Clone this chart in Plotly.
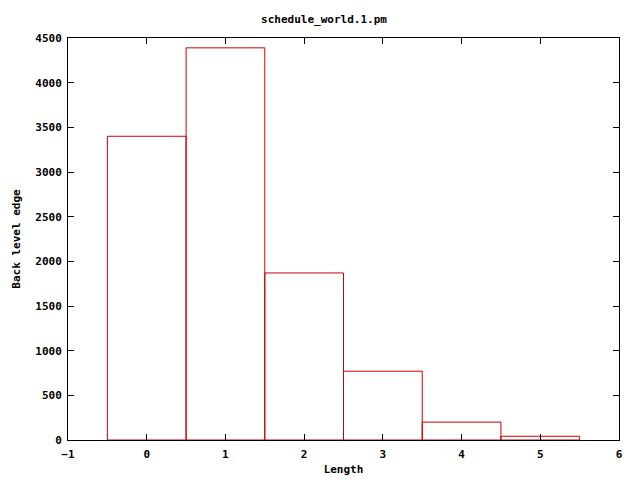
import plotly.graph_objects as go

lengths = [0, 1, 2, 3, 4, 5]
counts = [3400, 4390, 1870, 770, 200, 42]
x_ticks = [-1, 0, 1, 2, 3, 4, 5, 6]
y_ticks = [0, 500, 1000, 1500, 2000, 2500, 3000, 3500, 4000, 4500]

font = dict(family="DejaVu Sans Mono", size=11, color="black")

fig = go.Figure(go.Bar(
    x=lengths, y=counts, width=1,
    marker=dict(color="rgba(0,0,0,0)", line=dict(color="#cc0000", width=1)),
))

axis_common = dict(
    showgrid=False, zeroline=False, showline=True, linecolor="black", linewidth=1,
    mirror="ticks", ticks="inside", ticklen=6, tickcolor="black", tickwidth=1,
    automargin=False, layer="above traces",
    tickfont=dict(family="DejaVu Sans Mono", size=11, color="black", weight="bold"),
)

fig.update_layout(
    width=632, height=472,
    paper_bgcolor="white", plot_bgcolor="white",
    margin=dict(l=60, r=21, t=30, b=40, autoexpand=False),
    showlegend=False,
    font=font,
    title=dict(text="<b>schedule_world.1.pm</b>", x=0.5, xanchor="center", y=0.977, yanchor="middle",
               automargin=False,
               font=dict(family="DejaVu Sans Mono", size=11, color="black")),
    xaxis=dict(range=[-1, 6], tickvals=x_ticks, ticklabelstandoff=4, **axis_common,
               title=dict(text="<b>Length</b>", standoff=5,
                          font=dict(family="DejaVu Sans Mono", size=11, color="black"))),
    yaxis=dict(range=[0, 4500], tickvals=y_ticks, ticklabelstandoff=3, **axis_common,
               title=dict(text="<b>Back level edge</b>", standoff=12,
                          font=dict(family="DejaVu Sans Mono", size=11, color="black"))),
)

fig.write_html("out.html")
